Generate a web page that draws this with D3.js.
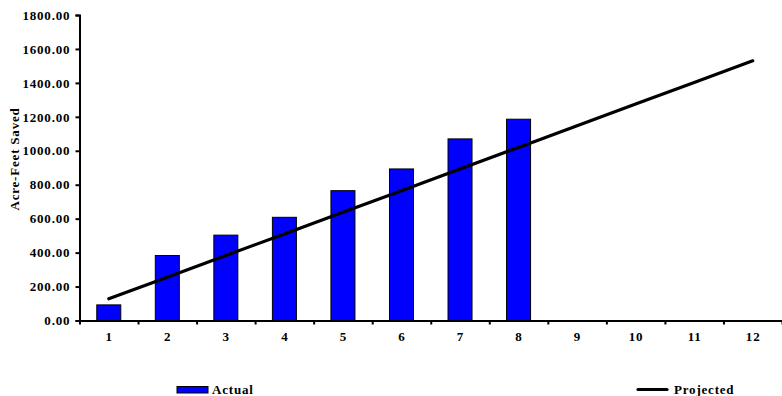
<!DOCTYPE html>
<html>
<head>
<meta charset="utf-8">
<script src="https://cdn.jsdelivr.net/npm/d3@7"></script>
<style>
  html, body { margin: 0; padding: 0; background: #fff; }
  svg text { font-family: "Liberation Serif", "Times New Roman", serif; font-weight: bold; font-size: 13px; letter-spacing: 0.8px; fill: #000; }
</style>
</head>
<body>
<svg id="chart" width="782" height="396"></svg>
<script>
const categories = ["1","2","3","4","5","6","7","8","9","10","11","12"];
const actual = [92, 383, 503, 608, 765, 893, 1070, 1186];
const projected = [128, 255, 383, 510, 638, 765, 893, 1020, 1148, 1275, 1403, 1530];
const yTicks = [0, 200, 400, 600, 800, 1000, 1200, 1400, 1600, 1800];
const seriesNames = ["Actual", "Projected"];

const svg = d3.select("#chart");
const mLeft = 79.5, mRight = 782, mTop = 15, mBottom = 320.5;

const x = d3.scaleBand().domain(categories).range([mLeft, mRight]).paddingInner(0.59).paddingOuter(0.295);
const xEdge = d3.scaleLinear().domain([0, categories.length]).range([mLeft, mRight]);
const y = d3.scaleLinear().domain([0, 1800]).range([mBottom, mTop]);

// bars
svg.append("g").selectAll("rect").data(actual).join("rect")
  .attr("x", (d, i) => x(categories[i]))
  .attr("y", d => y(d))
  .attr("width", x.bandwidth())
  .attr("height", d => y(0) - y(d))
  .attr("fill", "#0000ff")
  .attr("stroke", "#000")
  .attr("stroke-width", 1);

// projected line
const line = d3.line().x((d, i) => x(categories[i]) + x.bandwidth() / 2).y(d => y(d));
svg.append("path").datum(projected)
  .attr("d", line)
  .attr("fill", "none")
  .attr("stroke", "#000")
  .attr("stroke-width", 3.2)
  .attr("stroke-linecap", "round");

// y axis
const yAxis = svg.append("g").attr("transform", `translate(${mLeft},0)`)
  .call(d3.axisLeft(y).tickValues(yTicks).tickSize(4).tickPadding(6).tickFormat(d3.format(".2f")));
yAxis.select(".domain").attr("stroke-width", 2);
yAxis.selectAll(".tick line").attr("stroke-width", 2);
yAxis.selectAll("text").attr("dx", "0.8px");

// x axis edge ticks
const xAxisEdges = svg.append("g").attr("transform", `translate(0,${mBottom})`)
  .call(d3.axisBottom(xEdge).tickValues(d3.range(0, categories.length + 1)).tickSize(4).tickSizeOuter(0).tickFormat(""));
xAxisEdges.select(".domain").attr("stroke-width", 2);
xAxisEdges.selectAll(".tick line").attr("stroke-width", 2);

// x labels
const xAxis = svg.append("g").attr("transform", `translate(0,${mBottom})`)
  .call(d3.axisBottom(x).tickSize(0).tickPadding(11));
xAxis.select(".domain").remove();
xAxis.selectAll("text").attr("dx", "0.4px");

// y title
svg.append("text")
  .attr("transform", "translate(19,159) rotate(-90)")
  .attr("text-anchor", "middle")
  .text("Acre-Feet Saved");

// legend
svg.append("rect").attr("x", 177).attr("y", 386.5).attr("width", 31).attr("height", 6.5)
  .attr("fill", "#0000ff").attr("stroke", "#000").attr("stroke-width", 1);
svg.append("text").attr("x", 212).attr("y", 394).text(seriesNames[0]);
svg.append("line").attr("x1", 638).attr("x2", 667).attr("y1", 389.5).attr("y2", 389.5)
  .attr("stroke", "#000").attr("stroke-width", 3.2).attr("stroke-linecap", "round");
svg.append("text").attr("x", 674).attr("y", 394).text(seriesNames[1]);
</script>
</body>
</html>
